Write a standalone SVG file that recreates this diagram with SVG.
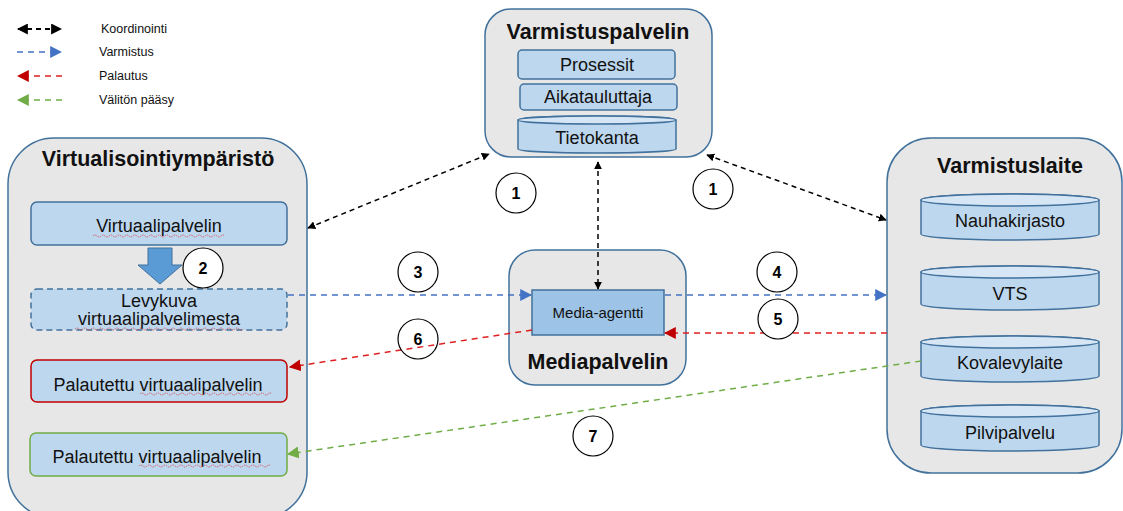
<svg xmlns="http://www.w3.org/2000/svg" width="1123" height="511" viewBox="0 0 1123 511">
<style>
.cont{fill:#e7e7e7;stroke:#41719c;stroke-width:1.5}
.box{fill:#bdd7ee;stroke:#41719c;stroke-width:1.5}
.t{font-family:"Liberation Sans",Arial,sans-serif;fill:#111;text-anchor:middle}
.title{font-size:21.5px;font-weight:bold}
.lbl{font-size:18px}
.leg{font-family:"Liberation Sans",Arial,sans-serif;font-size:12.5px;fill:#111}
.num{font-family:"Liberation Sans",Arial,sans-serif;font-size:16px;font-weight:bold;text-anchor:middle;fill:#000}
.circ{fill:#fff;stroke:#000;stroke-width:1.2}
.blk{stroke:#000;stroke-width:1.5;stroke-dasharray:5,4;fill:none}
.blu{stroke:#4472c4;stroke-width:1.5;stroke-dasharray:6,5;fill:none}
.red{stroke:#e02020;stroke-width:1.5;stroke-dasharray:6,5;fill:none}
.grn{stroke:#70ad47;stroke-width:1.5;stroke-dasharray:6,5;fill:none}
.wave{stroke:#e04040;stroke-width:0.8;fill:none;stroke-dasharray:1.5,1}
</style>
<defs>
<marker id="ab" viewBox="0 0 10 10" refX="9" refY="5" markerWidth="8" markerHeight="8" orient="auto-start-reverse" markerUnits="userSpaceOnUse"><path d="M0,0 L10,5 L0,10 z" fill="#000"/></marker>
<marker id="abL" viewBox="0 0 10 10" refX="9" refY="5" markerWidth="11" markerHeight="11" orient="auto-start-reverse" markerUnits="userSpaceOnUse"><path d="M0,0 L10,5 L0,10 z" fill="#000"/></marker>
<marker id="abl" viewBox="0 0 10 10" refX="9" refY="5" markerWidth="12" markerHeight="12" orient="auto" markerUnits="userSpaceOnUse"><path d="M0,0 L10,5 L0,10 z" fill="#4472c4"/></marker>
<marker id="ar" viewBox="0 0 10 10" refX="9" refY="5" markerWidth="12" markerHeight="12" orient="auto" markerUnits="userSpaceOnUse"><path d="M0,0 L10,5 L0,10 z" fill="#c00000"/></marker>
<marker id="ag" viewBox="0 0 10 10" refX="9" refY="5" markerWidth="12" markerHeight="12" orient="auto" markerUnits="userSpaceOnUse"><path d="M0,0 L10,5 L0,10 z" fill="#70ad47"/></marker>
</defs>

<g id="legend">
<line class="blk" x1="18" y1="29" x2="61" y2="29" marker-start="url(#abL)" marker-end="url(#abL)" style="stroke-width:2"/>
<text class="leg" x="101" y="33">Koordinointi</text>
<line class="blu" x1="17" y1="52" x2="61" y2="52" marker-end="url(#abl)"/>
<text class="leg" x="99" y="56">Varmistus</text>
<line class="red" x1="62" y1="76" x2="18" y2="76" marker-end="url(#ar)"/>
<text class="leg" x="99" y="80">Palautus</text>
<line class="grn" x1="62" y1="100" x2="18" y2="100" marker-end="url(#ag)"/>
<text class="leg" x="99" y="104">Välitön pääsy</text>
</g>

<g id="varmistuspalvelin">
<rect class="cont" x="485" y="9" width="227" height="148" rx="26"/>
<text class="t title" x="598" y="39">Varmistuspalvelin</text>
<rect class="box" x="518" y="50" width="157" height="29" rx="4"/>
<text class="t lbl" x="597" y="71">Prosessit</text>
<rect class="box" x="520" y="84" width="157" height="26" rx="4"/>
<text class="t lbl" x="598" y="103">Aikatauluttaja</text>
<path class="box" d="M518,120 L518,149 A79,4 0 0 0 676,149 L676,120 A79,4 0 0 0 518,120 z"/>
<ellipse cx="597" cy="120" rx="79" ry="4" fill="#d6e6f5" stroke="#41719c" stroke-width="1.5"/>
<text class="t lbl" x="597" y="144">Tietokanta</text>
</g>

<g id="virtualisointi">
<rect class="cont" x="8" y="138" width="299" height="380" rx="46"/>
<text class="t title" x="158" y="166">Virtualisointiympäristö</text>
<rect class="box" x="31" y="202" width="256" height="43" rx="6"/>
<text class="t lbl" x="159" y="232">Virtuaalipalvelin</text>
<path class="wave" d="M93,236 q2,-2 4,0 t4,0 t4,0 t4,0 t4,0 t4,0 t4,0 t4,0 t4,0 t4,0 t4,0 t4,0 t4,0 t4,0 t4,0 t4,0 t4,0 t4,0 t4,0 t4,0 t4,0 t4,0 t4,0 t4,0 t4,0 t4,0 t4,0 t4,0 t4,0 t4,0 t4,0 t4,0 t4,0"/>
<path d="M148,248 L172,248 L172,265 L182,265 L160,284 L138,265 L148,265 z" fill="#5b9bd5" stroke="#41719c" stroke-width="1"/>
<rect class="box" x="31" y="289" width="256" height="41" rx="6" style="stroke-dasharray:6,4"/>
<text class="t lbl" x="159" y="307">Levykuva</text>
<text class="t lbl" x="159" y="325">virtuaalipalvelimesta</text>
<path class="wave" d="M75,329 q2,-2 4,0 t4,0 t4,0 t4,0 t4,0 t4,0 t4,0 t4,0 t4,0 t4,0 t4,0 t4,0 t4,0 t4,0 t4,0 t4,0 t4,0 t4,0 t4,0 t4,0 t4,0 t4,0 t4,0 t4,0 t4,0 t4,0 t4,0 t4,0 t4,0 t4,0 t4,0 t4,0 t4,0 t4,0 t4,0 t4,0 t4,0 t4,0 t4,0 t4,0 t4,0 t4,0"/>
<rect class="box" x="31" y="360" width="256" height="42" rx="6" style="stroke:#c00000"/>
<text class="t lbl" x="158" y="391">Palautettu virtuaalipalvelin</text>
<path class="wave" d="M140,394 q2,-2 4,0 t4,0 t4,0 t4,0 t4,0 t4,0 t4,0 t4,0 t4,0 t4,0 t4,0 t4,0 t4,0 t4,0 t4,0 t4,0 t4,0 t4,0 t4,0 t4,0 t4,0 t4,0 t4,0 t4,0 t4,0 t4,0 t4,0 t4,0 t4,0 t4,0 t4,0 t4,0 t4,0"/>
<rect class="box" x="30" y="433" width="257" height="43" rx="6" style="stroke:#70ad47"/>
<text class="t lbl" x="157" y="463">Palautettu virtuaalipalvelin</text>
<path class="wave" d="M139,466 q2,-2 4,0 t4,0 t4,0 t4,0 t4,0 t4,0 t4,0 t4,0 t4,0 t4,0 t4,0 t4,0 t4,0 t4,0 t4,0 t4,0 t4,0 t4,0 t4,0 t4,0 t4,0 t4,0 t4,0 t4,0 t4,0 t4,0 t4,0 t4,0 t4,0 t4,0 t4,0 t4,0 t4,0"/>
</g>

<g id="mediapalvelin">
<rect class="cont" x="509" y="250" width="177" height="135" rx="26"/>
<rect x="532" y="290" width="132" height="45" fill="#9dc3e6" stroke="#41719c" stroke-width="1.5"/>
<text class="t" style="font-size:15px" x="598" y="318">Media-agentti</text>
<text class="t title" x="598" y="369">Mediapalvelin</text>
</g>

<g id="varmistuslaite">
<rect class="cont" x="887" y="138" width="235" height="335" rx="44"/>
<text class="t title" x="1010" y="173">Varmistuslaite</text>
<path class="box" d="M921,200 L921,234 A89,6 0 0 0 1099,234 L1099,200 A89,6 0 0 0 921,200 z"/>
<ellipse cx="1010" cy="200" rx="89" ry="6" fill="#d6e6f5" stroke="#41719c" stroke-width="1.5"/>
<text class="t lbl" x="1010" y="227">Nauhakirjasto</text>
<path class="box" d="M921,272 L921,304 A89,6 0 0 0 1099,304 L1099,272 A89,6 0 0 0 921,272 z"/>
<ellipse cx="1010" cy="272" rx="89" ry="6" fill="#d6e6f5" stroke="#41719c" stroke-width="1.5"/>
<text class="t lbl" x="1010" y="300">VTS</text>
<path class="box" d="M921,342 L921,376 A89,6 0 0 0 1099,376 L1099,342 A89,6 0 0 0 921,342 z"/>
<ellipse cx="1010" cy="342" rx="89" ry="6" fill="#d6e6f5" stroke="#41719c" stroke-width="1.5"/>
<text class="t lbl" x="1010" y="369">Kovalevylaite</text>
<path class="box" d="M921,411 L921,445 A89,6 0 0 0 1099,445 L1099,411 A89,6 0 0 0 921,411 z"/>
<ellipse cx="1010" cy="411" rx="89" ry="6" fill="#d6e6f5" stroke="#41719c" stroke-width="1.5"/>
<text class="t lbl" x="1010" y="439">Pilvipalvelu</text>
</g>

<g id="connectors">
<line class="blk" x1="308" y1="228" x2="489" y2="154" marker-start="url(#ab)" marker-end="url(#ab)"/>
<line class="blk" x1="707" y1="155" x2="886" y2="220" marker-start="url(#ab)" marker-end="url(#ab)"/>
<line class="blk" x1="598" y1="162" x2="598" y2="289" marker-start="url(#ab)" marker-end="url(#ab)"/>
<line class="blu" x1="288" y1="295" x2="531" y2="295" marker-end="url(#abl)"/>
<line class="blu" x1="665" y1="295" x2="886" y2="295" marker-end="url(#abl)"/>
<line class="red" x1="887" y1="333" x2="665" y2="333" marker-end="url(#ar)"/>
<line class="red" x1="532" y1="330" x2="290" y2="367" marker-end="url(#ar)"/>
<line class="grn" x1="921" y1="361" x2="288" y2="454" marker-end="url(#ag)"/>
</g>

<g id="numbers">
<circle class="circ" cx="516" cy="193" r="20"/><text class="num" x="516" y="199">1</text>
<circle class="circ" cx="713" cy="189" r="20"/><text class="num" x="713" y="195">1</text>
<circle class="circ" cx="203" cy="268" r="20"/><text class="num" x="203" y="274">2</text>
<circle class="circ" cx="418" cy="272" r="20"/><text class="num" x="418" y="278">3</text>
<circle class="circ" cx="777" cy="272" r="20"/><text class="num" x="777" y="278">4</text>
<circle class="circ" cx="778" cy="319" r="20"/><text class="num" x="778" y="325">5</text>
<circle class="circ" cx="418" cy="339" r="20" style="fill:none"/><text class="num" x="418" y="345">6</text>
<circle class="circ" cx="593" cy="436" r="20"/><text class="num" x="593" y="442">7</text>
</g>
</svg>
